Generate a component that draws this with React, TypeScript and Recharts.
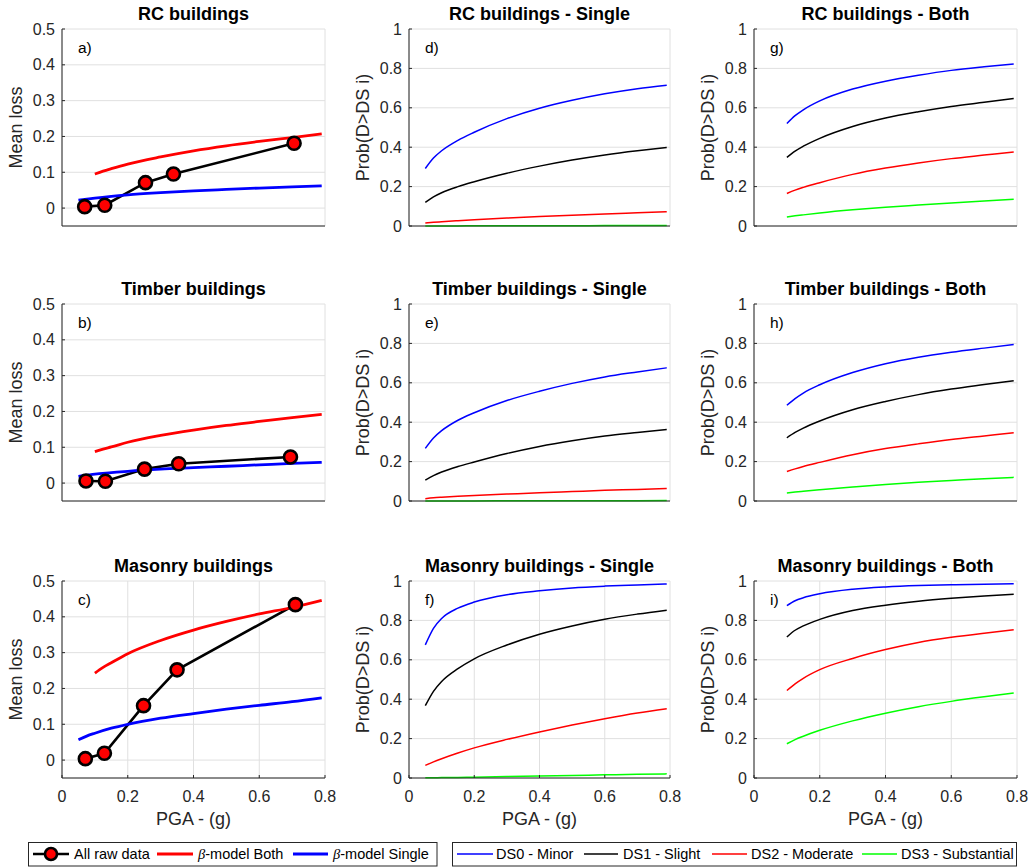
import React from 'react';
import { LineChart, Line, XAxis, YAxis, CartesianGrid } from 'recharts';

const FONT = '"Liberation Sans", Arial, Helvetica, sans-serif';
const AX = '#262626';
const GRID = '#e0e0e0';

// ---- ticks / labels ----
const pgaTicks = [0, 0.2, 0.4, 0.6, 0.8];
const lossTicks = [0, 0.1, 0.2, 0.3, 0.4, 0.5];
const probTicks = [0, 0.2, 0.4, 0.6, 0.8, 1];

const lossTitles = ['RC buildings', 'Timber buildings', 'Masonry buildings'];
const singleTitles = ['RC buildings - Single', 'Timber buildings - Single', 'Masonry buildings - Single'];
const bothTitles = ['RC buildings - Both', 'Timber buildings - Both', 'Masonry buildings - Both'];
const lossTags = ['a)', 'b)', 'c)'];
const singleTags = ['d)', 'e)', 'f)'];
const bothTags = ['g)', 'h)', 'i)'];
const dsNames = ['DS0 - Minor', 'DS1 - Slight', 'DS2 - Moderate', 'DS3 - Substantial'];
const dsColors = ['#0000ff', '#000000', '#ff0000', '#00ff00'];

// ---- PGA sample points ----
const pgaSingle = [0.05, 0.075, 0.1, 0.15, 0.2, 0.3, 0.4, 0.5, 0.6, 0.7, 0.79];
const pgaBoth = [0.1, 0.125, 0.15, 0.2, 0.3, 0.4, 0.5, 0.6, 0.7, 0.79];

// ---- raw mean-loss data ----
const rcRawPga = [0.069, 0.13, 0.254, 0.339, 0.706];
const rcRawLoss = [0.004, 0.008, 0.071, 0.095, 0.181];
const timberRawPga = [0.073, 0.132, 0.251, 0.355, 0.695];
const timberRawLoss = [0.006, 0.005, 0.039, 0.054, 0.073];
const masonryRawPga = [0.071, 0.129, 0.248, 0.35, 0.71];
const masonryRawLoss = [0.004, 0.019, 0.152, 0.252, 0.434];

// ---- beta-model mean loss ----
const rcLossSingle = [0.022, 0.025, 0.028, 0.033, 0.037, 0.043, 0.048, 0.052, 0.056, 0.059, 0.062];
const timberLossSingle = [0.019, 0.022, 0.025, 0.029, 0.033, 0.039, 0.043, 0.047, 0.051, 0.055, 0.058];
const masonryLossSingle = [0.057, 0.067, 0.075, 0.089, 0.1, 0.117, 0.13, 0.142, 0.153, 0.163, 0.174];
const rcLossBoth = [0.095, 0.103, 0.11, 0.123, 0.143, 0.16, 0.174, 0.186, 0.197, 0.207];
const timberLossBoth = [0.088, 0.095, 0.101, 0.114, 0.133, 0.148, 0.161, 0.172, 0.183, 0.192];
const masonryLossBoth = [0.243, 0.259, 0.272, 0.297, 0.334, 0.363, 0.387, 0.408, 0.426, 0.446];

// ---- fragility: Single ----
const rcSingleDS0 = [0.292, 0.345, 0.382, 0.435, 0.476, 0.545, 0.598, 0.638, 0.671, 0.697, 0.715];
const rcSingleDS1 = [0.12, 0.148, 0.169, 0.2, 0.225, 0.268, 0.304, 0.335, 0.361, 0.382, 0.398];
const rcSingleDS2 = [0.015, 0.0185, 0.0215, 0.027, 0.032, 0.0405, 0.048, 0.055, 0.0615, 0.067, 0.072];
const rcSingleDS3 = [0.0002, 0.0003, 0.0004, 0.0006, 0.0008, 0.0012, 0.0015, 0.0018, 0.002, 0.0023, 0.0025];
const timberSingleDS0 = [0.267, 0.32, 0.357, 0.41, 0.448, 0.51, 0.557, 0.597, 0.63, 0.655, 0.676];
const timberSingleDS1 = [0.106, 0.129, 0.147, 0.175, 0.198, 0.241, 0.277, 0.306, 0.33, 0.348, 0.363];
const timberSingleDS2 = [0.012, 0.016, 0.019, 0.024, 0.028, 0.035, 0.042, 0.048, 0.054, 0.059, 0.064];
const timberSingleDS3 = [0.0001, 0.0002, 0.0003, 0.0004, 0.0006, 0.0008, 0.001, 0.0013, 0.0015, 0.0018, 0.002];
const masonrySingleDS0 = [0.676, 0.76, 0.81, 0.862, 0.893, 0.93, 0.95, 0.965, 0.974, 0.98, 0.985];
const masonrySingleDS1 = [0.367, 0.44, 0.49, 0.555, 0.605, 0.675, 0.73, 0.772, 0.806, 0.832, 0.852];
const masonrySingleDS2 = [0.064, 0.082, 0.098, 0.127, 0.153, 0.196, 0.234, 0.269, 0.301, 0.33, 0.352];
const masonrySingleDS3 = [0.001, 0.0015, 0.002, 0.003, 0.004, 0.007, 0.01, 0.013, 0.016, 0.019, 0.021];

// ---- fragility: Both ----
const rcBothDS0 = [0.52, 0.56, 0.59, 0.635, 0.695, 0.735, 0.765, 0.79, 0.808, 0.822];
const rcBothDS1 = [0.348, 0.38, 0.405, 0.445, 0.505, 0.548, 0.58, 0.607, 0.628, 0.647];
const rcBothDS2 = [0.165, 0.182, 0.196, 0.22, 0.262, 0.294, 0.32, 0.342, 0.36, 0.376];
const rcBothDS3 = [0.046, 0.0515, 0.0565, 0.066, 0.082, 0.095, 0.106, 0.117, 0.127, 0.136];
const timberBothDS0 = [0.486, 0.52, 0.548, 0.59, 0.652, 0.697, 0.73, 0.755, 0.776, 0.794];
const timberBothDS1 = [0.321, 0.348, 0.37, 0.406, 0.463, 0.505, 0.54, 0.568, 0.591, 0.611];
const timberBothDS2 = [0.15, 0.163, 0.175, 0.196, 0.235, 0.266, 0.29, 0.312, 0.33, 0.346];
const timberBothDS3 = [0.041, 0.0455, 0.0495, 0.057, 0.071, 0.084, 0.095, 0.104, 0.113, 0.12];
const masonryBothDS0 = [0.875, 0.9, 0.915, 0.935, 0.958, 0.97, 0.977, 0.981, 0.984, 0.986];
const masonryBothDS1 = [0.716, 0.75, 0.772, 0.805, 0.85, 0.877, 0.897, 0.912, 0.924, 0.933];
const masonryBothDS2 = [0.444, 0.478, 0.506, 0.55, 0.607, 0.652, 0.688, 0.714, 0.735, 0.752];
const masonryBothDS3 = [0.174, 0.195, 0.212, 0.242, 0.29, 0.329, 0.362, 0.389, 0.412, 0.431];

const toRows = (xs: number[], ys: number[]) => xs.map((x, i) => ({ x, y: ys[i] }));

// ---- layout ----
const colLeft = [62, 409, 754];
const colW = [263, 261, 263];
const rowTop = [29, 304, 581];
const PLOT_H = 197;

type PanelProps = {
  left: number; top: number; w: number; bottom: boolean;
  yDomain: [number, number]; yTicks: number[]; children: React.ReactNode;
};

function Panel({ left, top, w, bottom, yDomain, yTicks, children }: PanelProps) {
  const YW = 60, MT = 10, MR = 16, XH = bottom ? 32 : 12;
  const tickStyle = { fill: AX, fontSize: 16, fontFamily: FONT };
  return (
    <div style={{ position: 'absolute', left: left - YW, top: top - MT }}>
      <LineChart width={YW + w + MR} height={MT + PLOT_H + XH}
        margin={{ top: MT, right: MR, left: 0, bottom: 0 }} style={{ fontFamily: FONT }}>
        <CartesianGrid stroke={GRID} strokeWidth={1} />
        <XAxis dataKey="x" type="number" domain={[0, 0.8]} ticks={pgaTicks} interval={0}
          height={XH} tickSize={-3} tickMargin={16}
          axisLine={{ stroke: AX }} tickLine={{ stroke: AX }}
          tick={bottom ? tickStyle : false} />
        <XAxis xAxisId="top" orientation="top" dataKey="x" type="number" domain={[0, 0.8]}
          ticks={pgaTicks} interval={0} height={0} tickSize={-3}
          axisLine={{ stroke: AX }} tickLine={{ stroke: AX }} tick={false} />
        <YAxis type="number" domain={yDomain} ticks={yTicks} interval={0} width={YW}
          tickSize={-3} tickMargin={10} axisLine={{ stroke: AX }} tickLine={{ stroke: AX }}
          tick={tickStyle} />
        <YAxis yAxisId="right" orientation="right" type="number" domain={yDomain} ticks={yTicks}
          interval={0} width={0} tickSize={-3} axisLine={{ stroke: AX }} tickLine={{ stroke: AX }}
          tick={false} />
        {children}
      </LineChart>
    </div>
  );
}

function lossLines(rawX: number[], rawY: number[], single: number[], both: number[]) {
  return [
    <Line key="raw" data={toRows(rawX, rawY)} dataKey="y" type="linear" stroke="#000000" strokeWidth={2.6}
      dot={{ r: 6.5, fill: '#ff0000', stroke: '#000000', strokeWidth: 2.6 }} isAnimationActive={false} />,
    <Line key="both" data={toRows(pgaBoth, both)} dataKey="y" type="monotone" stroke="#ff0000" strokeWidth={2.8}
      dot={false} isAnimationActive={false} />,
    <Line key="single" data={toRows(pgaSingle, single)} dataKey="y" type="monotone" stroke="#0000ff" strokeWidth={2.8}
      dot={false} isAnimationActive={false} />,
  ];
}

function dsLines(xs: number[], series: number[][]) {
  return series.map((s, i) => (
    <Line key={'ds' + i} data={toRows(xs, s)} dataKey="y" type="monotone" stroke={dsColors[i]}
      strokeWidth={1.5} dot={false} isAnimationActive={false} />
  ));
}

const lossSets = [
  [rcRawPga, rcRawLoss, rcLossSingle, rcLossBoth],
  [timberRawPga, timberRawLoss, timberLossSingle, timberLossBoth],
  [masonryRawPga, masonryRawLoss, masonryLossSingle, masonryLossBoth],
];
const singleSets = [
  [rcSingleDS0, rcSingleDS1, rcSingleDS2, rcSingleDS3],
  [timberSingleDS0, timberSingleDS1, timberSingleDS2, timberSingleDS3],
  [masonrySingleDS0, masonrySingleDS1, masonrySingleDS2, masonrySingleDS3],
];
const bothSets = [
  [rcBothDS0, rcBothDS1, rcBothDS2, rcBothDS3],
  [timberBothDS0, timberBothDS1, timberBothDS2, timberBothDS3],
  [masonryBothDS0, masonryBothDS1, masonryBothDS2, masonryBothDS3],
];

export default function App() {
  const panels: React.ReactNode[] = [];
  const texts: React.ReactNode[] = [];
  const titlesByCol = [lossTitles, singleTitles, bothTitles];
  const tagsByCol = [lossTags, singleTags, bothTags];
  const yLabels = ['Mean loss', 'Prob(D>DS i)', 'Prob(D>DS i)'];

  for (let r = 0; r < 3; r++) {
    const bottom = r === 2;
    const [rx, ry, rs, rb] = lossSets[r];
    panels.push(
      <Panel key={'l' + r} left={colLeft[0]} top={rowTop[r]} w={colW[0]} bottom={bottom}
        yDomain={[-0.05, 0.5]} yTicks={lossTicks}>
        {lossLines(rx, ry, rs, rb)}
      </Panel>
    );
    panels.push(
      <Panel key={'s' + r} left={colLeft[1]} top={rowTop[r]} w={colW[1]} bottom={bottom}
        yDomain={[0, 1]} yTicks={probTicks}>
        {dsLines(pgaSingle, singleSets[r])}
      </Panel>
    );
    panels.push(
      <Panel key={'b' + r} left={colLeft[2]} top={rowTop[r]} w={colW[2]} bottom={bottom}
        yDomain={[0, 1]} yTicks={probTicks}>
        {dsLines(pgaBoth, bothSets[r])}
      </Panel>
    );
    for (let c = 0; c < 3; c++) {
      const cx = colLeft[c] + colW[c] / 2;
      const top = rowTop[r];
      texts.push(
        <text key={`t${r}${c}`} x={cx} y={top - 9.5} textAnchor="middle" fontSize={18}
          fontWeight="bold" fill="#000">{titlesByCol[c][r]}</text>
      );
      texts.push(
        <text key={`g${r}${c}`} x={colLeft[c] + 16} y={top + 24} fontSize={15.5} fill="#000">
          {tagsByCol[c][r]}</text>
      );
      const ly = top + PLOT_H / 2;
      const lx = colLeft[c] - 40;
      texts.push(
        <text key={`y${r}${c}`} x={lx} y={ly} textAnchor="middle" fontSize={18} fill={AX}
          transform={`rotate(-90 ${lx} ${ly})`}>{yLabels[c]}</text>
      );
      if (bottom) {
        texts.push(
          <text key={`x${c}`} x={cx} y={top + PLOT_H + 47} textAnchor="middle" fontSize={18}
            fill={AX}>PGA - (g)</text>
        );
      }
    }
  }

  const ly = 854;
  const tb = 859;
  const legend1 = (
    <g key="leg1">
      <rect x={28.5} y={842.5} width={408.5} height={23.5} fill="#fff" stroke={AX} strokeWidth={1} />
      <line x1={33} x2={69} y1={ly} y2={ly} stroke="#000" strokeWidth={2.6} />
      <circle cx={51} cy={ly} r={6} fill="#ff0000" stroke="#000" strokeWidth={2.6} />
      <text x={74} y={tb} fontSize={14.5} fill="#000">All raw data</text>
      <line x1={157} x2={193} y1={ly} y2={ly} stroke="#ff0000" strokeWidth={2.8} />
      <text x={198} y={tb} fontSize={14.5} fill="#000">
        <tspan fontStyle="italic" fontFamily='"Liberation Serif", serif'>β</tspan>-model Both</text>
      <line x1={293} x2={328} y1={ly} y2={ly} stroke="#0000ff" strokeWidth={2.8} />
      <text x={333} y={tb} fontSize={14.5} fill="#000">
        <tspan fontStyle="italic" fontFamily='"Liberation Serif", serif'>β</tspan>-model Single</text>
    </g>
  );
  const l2Lines = [[457, 493, 496], [584, 618, 623], [712, 747, 751], [862, 897, 901]];
  const legend2 = (
    <g key="leg2">
      <rect x={452.5} y={842.5} width={564} height={23.5} fill="#fff" stroke={AX} strokeWidth={1} />
      {l2Lines.map((p, i) => (
        <g key={i}>
          <line x1={p[0]} x2={p[1]} y1={ly} y2={ly} stroke={dsColors[i]} strokeWidth={1.5} />
          <text x={p[2]} y={tb} fontSize={14.5} fill="#000">{dsNames[i]}</text>
        </g>
      ))}
    </g>
  );

  return (
    <div style={{ position: 'absolute', left: 0, top: 0, width: 1028, height: 868, background: '#fff', fontFamily: FONT }}>
      {panels}
      <svg width={1028} height={868} style={{ position: 'absolute', left: 0, top: 0, pointerEvents: 'none', fontFamily: FONT }}>
        {texts}
        {legend1}
        {legend2}
      </svg>
    </div>
  );
}
